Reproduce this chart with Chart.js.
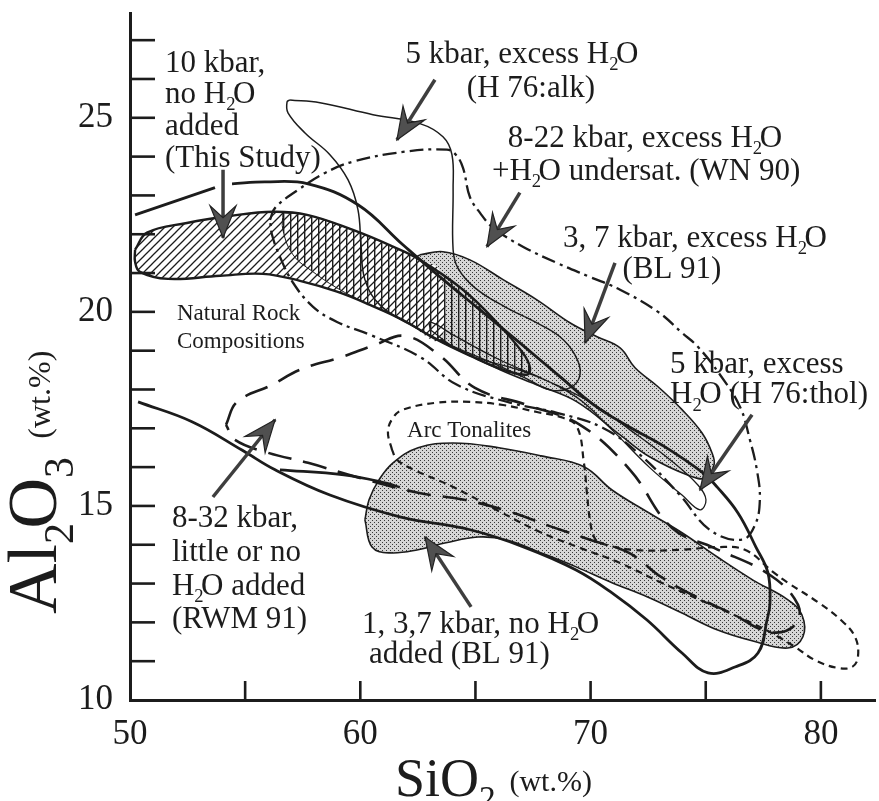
<!DOCTYPE html>
<html><head><meta charset="utf-8">
<script src="https://cdn.jsdelivr.net/npm/chart.js@4.4.1/dist/chart.umd.min.js"></script>
<style>html,body{margin:0;padding:0;background:#fff;}#wrap{width:879px;height:801px;}</style>
</head><body><div id="wrap"><canvas id="c" width="879" height="801"></canvas></div>
<script>
// ---------- axis ticks ----------
const sio2TickLabels = [50, 60, 70, 80];
const sio2TickMarks = [55, 60, 65, 70, 75, 80];
const al2o3TickLabels = [10, 15, 20, 25];
const al2o3TickMarks = [11,12,13,14,15,16,17,18,19,20,21,22,23,24,25,26,27];

// ---------- fields / curves  [SiO2, Al2O3] ----------
const naturalRockStub = [[50.22,22.50],[53.69,23.20]];
const naturalRockOutline = [[54.43,23.30],[55.86,23.35],[57.73,23.30],[59.90,22.76],[61.85,21.73],[63.46,20.90],[65.20,20.05],[66.93,19.20],[68.67,18.33],[70.15,17.60],[71.67,17.04],[73.23,16.52],[74.88,15.85],[75.49,15.49],[76.40,14.82],[77.18,13.94],[77.70,13.28],[77.79,12.50],[77.66,12.06],[77.27,11.21],[76.27,10.85],[75.10,10.70],[73.97,11.21],[72.45,12.06],[70.93,12.76],[69.37,13.35],[67.11,13.94],[64.81,14.38],[61.72,14.72],[58.68,15.28],[56.30,15.93],[54.86,16.44],[52.69,17.17],[50.35,17.68]];
const naturalRockSpur = [[56.51,15.93],[59.29,15.80],[61.12,15.59],[61.72,15.48]];

const thisStudyDiag = [[50.22,21.60],[50.74,22.04],[52.47,22.29],[54.34,22.47],[56.21,22.58],[57.69,22.50],[59.68,22.11],[61.42,21.68],[62.59,21.34],[63.46,21.03],[63.46,19.28],[61.85,19.79],[60.42,20.18],[58.99,20.52],[57.38,20.80],[55.77,20.98],[53.91,20.93],[51.65,20.85],[50.43,21.03],[50.22,21.29],[50.22,21.60]];
const thisStudyVert = [[56.64,22.55],[57.69,22.50],[59.68,22.11],[61.42,21.68],[62.59,21.34],[64.46,20.57],[65.94,19.72],[67.06,18.94],[67.37,18.56],[67.24,18.38],[66.20,18.51],[64.76,18.87],[63.33,19.28],[61.85,19.79],[60.42,20.18],[59.12,20.57],[57.95,21.03],[57.08,21.47],[56.64,22.11],[56.64,22.55]];
const thisStudyOutline = [[50.22,21.60],[50.74,22.04],[52.47,22.29],[54.34,22.47],[56.21,22.58],[57.69,22.50],[59.68,22.11],[61.42,21.68],[62.59,21.34],[64.46,20.57],[65.94,19.72],[67.06,18.94],[67.37,18.56],[67.24,18.38],[66.20,18.51],[64.76,18.87],[63.33,19.28],[61.85,19.79],[60.42,20.18],[58.99,20.52],[57.38,20.80],[55.77,20.98],[53.91,20.93],[51.65,20.85],[50.43,21.03],[50.22,21.29],[50.22,21.60]];

const h76AlkLoop = [[56.95,25.46],[58.25,25.39],[60.55,25.08],[62.59,24.85],[63.59,24.51],[63.98,24.05],[64.03,23.14],[64.03,21.60],[64.24,21.13],[64.98,20.62],[66.28,20.13],[67.59,19.74],[68.67,19.36],[69.32,18.89],[69.54,18.38],[69.10,18.04],[68.24,17.99],[67.15,18.30],[65.63,18.71],[63.89,19.15],[62.16,19.67],[60.85,20.18],[60.20,20.83],[60.03,21.73],[59.90,22.63],[59.47,23.40],[58.68,24.05],[57.60,24.61],[56.86,25.13],[56.82,25.41],[56.95,25.46]];

const wn90Loop = [[56.08,22.37],[56.30,22.68],[57.29,23.14],[58.47,23.58],[59.68,23.87],[61.85,24.12],[63.76,24.18],[64.15,24.05],[64.46,23.71],[64.76,22.96],[65.20,22.55],[65.76,22.17],[67.06,21.68],[68.54,21.26],[69.97,20.90],[71.28,20.57],[72.93,20.00],[73.97,19.46],[74.66,19.10],[75.62,18.38],[76.49,17.55],[76.92,16.70],[77.22,15.93],[77.35,15.16],[77.14,14.51],[76.57,14.13],[75.18,14.38],[73.88,15.28],[72.14,16.32],[70.54,17.01],[68.54,17.40],[66.50,17.66],[64.20,18.12],[62.59,18.84],[60.42,19.41],[58.99,19.74],[57.95,20.13],[57.08,20.75],[56.51,21.42],[56.17,21.98],[56.08,22.37]];

const rwm91Loop = [[54.17,17.09],[54.65,17.68],[56.17,18.12],[57.38,18.51],[59.21,18.84],[60.64,19.15],[61.94,19.38],[63.46,18.87],[64.98,18.04],[67.24,17.60],[69.54,17.09],[71.71,15.93],[73.54,14.43],[75.36,13.92],[77.79,13.22],[79.01,12.45],[78.88,11.93],[77.79,11.75],[76.10,12.24],[74.58,12.66],[73.06,13.17],[71.67,13.79],[69.97,14.13],[68.32,14.46],[66.50,14.85],[64.50,15.16],[62.51,15.34],[59.99,15.72],[57.73,16.11],[55.99,16.37],[54.56,16.70],[54.17,17.09]];

const arcTonalites = [[61.38,16.44],[61.20,16.91],[61.42,17.27],[61.85,17.48],[63.33,17.66],[64.76,17.68],[66.20,17.60],[67.67,17.42],[68.80,17.27],[69.41,17.04],[69.71,16.11],[69.84,15.34],[69.97,14.64],[70.15,14.20],[70.41,14.05],[71.84,13.87],[73.97,13.87],[75.49,13.94],[76.70,13.87],[77.96,13.28],[78.57,13.02],[79.92,12.50],[80.87,12.06],[81.48,11.63],[81.61,11.11],[81.35,10.85],[80.70,10.83],[79.74,11.03],[78.87,11.37],[77.79,11.75],[76.49,12.12],[74.75,12.58],[73.01,13.04],[71.28,13.53],[69.54,13.92],[67.80,14.33],[66.07,14.85],[64.03,15.49],[62.33,15.93],[61.59,16.19],[61.38,16.44]];

const bl91ExcessH2O = [[62.59,21.47],[63.59,21.55],[64.76,21.34],[66.20,20.83],[67.67,20.31],[69.10,19.72],[70.28,19.36],[71.28,19.07],[71.93,18.56],[72.93,18.07],[73.97,17.48],[74.84,16.88],[75.27,16.37],[75.36,16.06],[74.97,15.72],[74.32,15.77],[72.58,16.26],[71.28,16.83],[69.41,17.68],[67.80,18.09],[66.07,18.51],[63.89,19.15],[62.16,19.85],[61.72,20.31],[61.94,20.95],[62.25,21.34],[62.59,21.47]];

const bl91NoH2O = [[60.20,14.64],[60.38,15.16],[60.81,15.67],[61.42,16.11],[62.51,16.50],[64.03,16.62],[66.02,16.50],[67.85,16.29],[69.71,16.01],[70.93,15.41],[72.45,14.85],[73.97,14.31],[75.49,13.69],[77.05,13.09],[78.57,12.58],[79.18,12.19],[79.22,11.63],[78.57,11.34],[77.05,11.52],[75.49,11.81],[73.97,12.24],[72.45,12.66],[70.93,13.02],[69.37,13.43],[67.85,13.79],[66.33,14.13],[65.11,14.20],[63.72,14.05],[62.51,13.87],[61.29,13.79],[60.51,13.94],[60.20,14.64]];

const h76TholLoop = [[63.03,19.54],[64.50,18.94],[67.24,18.43],[69.37,17.81],[70.93,16.96],[72.58,15.98],[73.97,15.28],[74.75,14.90],[75.01,15.16],[74.66,15.54],[73.45,16.19],[71.71,16.96],[69.97,17.68],[68.02,18.25],[66.07,18.76],[64.11,19.38],[63.03,19.74],[63.03,19.54]];

// arrows: [tail, tip]
const arrowThisStudy = [[54.04,23.66],[54.04,21.91]];
const arrowH76Alk = [[63.24,25.98],[61.59,24.43]];
const arrowWN90 = [[66.93,23.07],[65.50,21.68]];
const arrowBL91Excess = [[71.06,21.26],[69.76,19.20]];
const arrowH76Thol = [[77.01,17.35],[74.75,15.41]];
const arrowRWM91 = [[53.60,15.23],[56.30,17.22]];
const arrowBL91NoH2O = [[64.81,12.40],[62.81,14.20]];

// ---------- label texts ----------
const labelThisStudy = ['10 kbar,', 'no H_2O', 'added', '(This Study)'];
const labelH76Alk = ['5 kbar, excess H_2O', '(H 76:alk)'];
const labelWN90 = ['8-22 kbar, excess H_2O', '+H_2O undersat. (WN 90)'];
const labelBL91Excess = ['3, 7 kbar, excess H_2O', '(BL 91)'];
const labelH76Thol = ['5 kbar, excess', 'H_2O (H 76:thol)'];
const labelRWM91 = ['8-32 kbar,', 'little or no', 'H_2O added', '(RWM 91)'];
const labelBL91NoH2O = ['1, 3,7 kbar, no H_2O', 'added (BL 91)'];
const labelNatural = ['Natural Rock', 'Compositions'];
const labelArc = ['Arc Tonalites'];

// ---------- layout (anchor positions in data units) ----------
const textLayout = [
  {src: labelThisStudy, at: [[51.52,26.19],[51.52,25.39],[51.52,24.56],[51.52,23.74]], align: 'left', size: 31},
  {src: labelH76Alk, at: [[67.02,26.42],[67.41,25.54]], align: 'center', size: 31},
  {src: labelWN90, at: [[72.36,24.25],[72.41,23.40]], align: 'center', size: 31},
  {src: labelBL91Excess, at: [[74.53,21.68],[73.53,20.88]], align: 'center', size: 31},
  {src: labelH76Thol, at: [[73.45,18.43],[73.45,17.65]], align: 'left', size: 31},
  {src: labelRWM91, at: [[51.82,14.46],[51.82,13.58],[51.82,12.71],[51.82,11.86]], align: 'left', size: 31},
  {src: labelBL91NoH2O, at: [[60.07,11.73],[60.38,10.96]], align: 'left', size: 31},
  {src: labelNatural, at: [[52.04,19.79],[52.04,19.07]], align: 'left', size: 23},
  {src: labelArc, at: [[62.03,16.78]], align: 'left', size: 23}
];

const FONT = '"Liberation Serif", "DejaVu Serif", serif';
const INK = '#1c1c1c';

function makePattern(kind) {
  const c = document.createElement('canvas');
  const g = c.getContext('2d');
  if (kind === 'diag') {
    c.width = 8; c.height = 8;
    g.fillStyle = '#fff'; g.fillRect(0,0,8,8);
    g.strokeStyle = '#1c1c1c'; g.lineWidth = 1.3;
    g.beginPath();
    g.moveTo(-2,10); g.lineTo(10,-2);
    g.moveTo(-2,2); g.lineTo(2,-2);
    g.moveTo(6,10); g.lineTo(10,6);
    g.stroke();
  } else if (kind === 'vert') {
    c.width = 7; c.height = 7;
    g.fillStyle = '#1c1c1c'; g.fillRect(3,0,1.4,7);
  } else {
    c.width = 4; c.height = 4;
    g.fillStyle = '#d6d6d6'; g.fillRect(0,0,4,4);
    g.fillStyle = '#3a3a3a'; g.fillRect(0,0,1,1); g.fillRect(2,2,1,1);
  }
  return g.createPattern(c, 'repeat');
}

const pts = a => a.map(([x, y]) => ({x, y}));
function ds(data, opts) {
  return Object.assign({data: pts(data), pointRadius: 0, pointHoverRadius: 0, tension: 0.4,
    borderColor: INK, borderWidth: 2, fill: false, backgroundColor: 'transparent'}, opts);
}
const arrowDs = (d) => ds(d, {tension: 0, borderColor: '#3e3e3e', borderWidth: 3.5, isArrow: true, order: 1});

function drawRich(ctx, str, x, y, size, align, subScale) {
  const sub = size * (subScale || 0.6);
  const items = str.split(/(_\d)/).filter(s => s.length).map(p => p[0] === '_' ? {t: p.slice(1), s: true} : {t: p, s: false});
  let w = 0;
  items.forEach(it => { ctx.font = (it.s ? sub : size) + 'px ' + FONT; it.w = ctx.measureText(it.t).width - (it.s ? size * 0.08 : 0); w += it.w; });
  let cx = align === 'center' ? x - w / 2 : (align === 'right' ? x - w : x);
  ctx.textAlign = 'left'; ctx.textBaseline = 'alphabetic';
  items.forEach(it => {
    ctx.font = (it.s ? sub : size) + 'px ' + FONT;
    ctx.fillText(it.t, cx, it.s ? y + size * 0.24 : y);
    cx += it.w;
  });
  return w;
}

const bgPlugin = { id: 'bg', beforeDraw(chart) { const c = chart.ctx; c.save(); c.fillStyle = '#fff'; c.fillRect(0, 0, chart.width, chart.height); c.restore(); } };

const arrowPlugin = {
  id: 'arrowHeads',
  afterDatasetsDraw(chart) {
    const ctx = chart.ctx;
    chart.data.datasets.forEach((d, i) => {
      if (!d.isArrow) return;
      const m = chart.getDatasetMeta(i);
      const p0 = m.data[0], p1 = m.data[1];
      const a = Math.atan2(p1.y - p0.y, p1.x - p0.x);
      const L = 32, W = 13, N = 12;
      ctx.save();
      ctx.translate(p1.x, p1.y); ctx.rotate(a);
      ctx.beginPath();
      ctx.moveTo(0, 0); ctx.lineTo(-L, -W); ctx.lineTo(-L + N, 0); ctx.lineTo(-L, W); ctx.closePath();
      ctx.fillStyle = '#505050'; ctx.fill();
      ctx.strokeStyle = '#222'; ctx.lineWidth = 1.2; ctx.stroke();
      ctx.restore();
    });
  }
};

const axisPlugin = {
  id: 'innerTicksAndText',
  afterDraw(chart) {
    const ctx = chart.ctx, xs = chart.scales.x, ys = chart.scales.y;
    const ca = chart.chartArea;
    ctx.save();
    ctx.strokeStyle = INK; ctx.lineWidth = 2.6; ctx.lineCap = 'butt';
    al2o3TickMarks.forEach(v => { const y = ys.getPixelForValue(v); ctx.beginPath(); ctx.moveTo(ca.left, y); ctx.lineTo(ca.left + 25, y); ctx.stroke(); });
    sio2TickMarks.forEach(v => { const x = xs.getPixelForValue(v); ctx.beginPath(); ctx.moveTo(x, ca.bottom); ctx.lineTo(x, ca.bottom - 19); ctx.stroke(); });
    ctx.fillStyle = INK;
    textLayout.forEach(L => {
      L.src.forEach((t, k) => {
        const [vx, vy] = L.at[k];
        drawRich(ctx, t, xs.getPixelForValue(vx), ys.getPixelForValue(vy), L.size, L.align);
      });
    });
    // x axis title
    let w = drawRich(ctx, 'SiO_2', 395, 796, 54, 'left', 0.62);
    ctx.font = '30px ' + FONT; ctx.fillText('(wt.%)', 395 + w + 18, 791);
    // y axis title (rotated)
    ctx.save();
    ctx.translate(56, 614); ctx.rotate(-Math.PI / 2);
    w = drawRich(ctx, 'Al_2O_3', 0, 0, 70, 'left', 0.6);
    ctx.font = '32px ' + FONT; ctx.fillText('(wt.%)', w + 24, -6);
    ctx.restore();
    ctx.restore();
  }
};

const datasets = [
  ds(bl91NoH2O, {fill: 'shape', backgroundColor: makePattern('dots'), borderWidth: 1.6, order: 20}),
  ds(bl91ExcessH2O, {fill: 'shape', backgroundColor: makePattern('dots'), borderWidth: 1.6, order: 19}),
  ds(thisStudyDiag, {fill: 'shape', backgroundColor: makePattern('diag'), borderWidth: 0, borderColor: 'transparent', order: 18}),
  ds(thisStudyVert, {fill: 'shape', backgroundColor: makePattern('vert'), borderWidth: 1, order: 17}),
  ds(thisStudyOutline, {borderWidth: 2.4, order: 16}),
  ds(h76TholLoop, {borderWidth: 1.3, order: 12}),
  ds(h76AlkLoop, {borderWidth: 1.5, order: 11}),
  ds(arcTonalites, {borderWidth: 2.2, borderDash: [7, 5], order: 10}),
  ds(rwm91Loop, {borderWidth: 2.6, borderDash: [24, 12], order: 9}),
  ds(wn90Loop, {borderWidth: 2.3, borderDash: [14, 5, 3, 5], order: 8}),
  ds(naturalRockStub, {borderWidth: 2.8, tension: 0, order: 7}),
  ds(naturalRockOutline, {borderWidth: 2.8, order: 7}),
  ds(naturalRockSpur, {borderWidth: 2.6, order: 7}),
  arrowDs(arrowThisStudy), arrowDs(arrowH76Alk), arrowDs(arrowWN90), arrowDs(arrowBL91Excess),
  arrowDs(arrowH76Thol), arrowDs(arrowRWM91), arrowDs(arrowBL91NoH2O)
];

new Chart(document.getElementById('c'), {
  type: 'line',
  data: { datasets },
  options: {
    responsive: false, animation: false, devicePixelRatio: 1,
    layout: { padding: { top: 13, right: 4, left: 0, bottom: 0 } },
    plugins: { legend: { display: false }, tooltip: { enabled: false } },
    scales: {
      x: {
        type: 'linear', min: 50, max: 82.35, position: 'bottom',
        afterFit: s => { s.height = 101; s.paddingLeft = 0; s.paddingRight = 0; },
        afterBuildTicks: s => { s.ticks = sio2TickLabels.map(v => ({value: v})); },
        ticks: { font: { family: FONT, size: 35 }, color: INK, padding: 14, maxRotation: 0, autoSkip: false },
        grid: { display: false, drawTicks: false },
        border: { display: true, color: INK, width: 3 }
      },
      y: {
        type: 'linear', min: 10, max: 27.7,
        afterFit: s => { s.width = 130; s.paddingTop = 0; s.paddingBottom = 0; },
        afterBuildTicks: s => { s.ticks = al2o3TickLabels.map(v => ({value: v})); },
        ticks: { font: { family: FONT, size: 35 }, color: INK, padding: 17, autoSkip: false },
        grid: { display: false, drawTicks: false },
        border: { display: true, color: INK, width: 3 }
      }
    }
  },
  plugins: [bgPlugin, arrowPlugin, axisPlugin]
});
</script></body></html>
